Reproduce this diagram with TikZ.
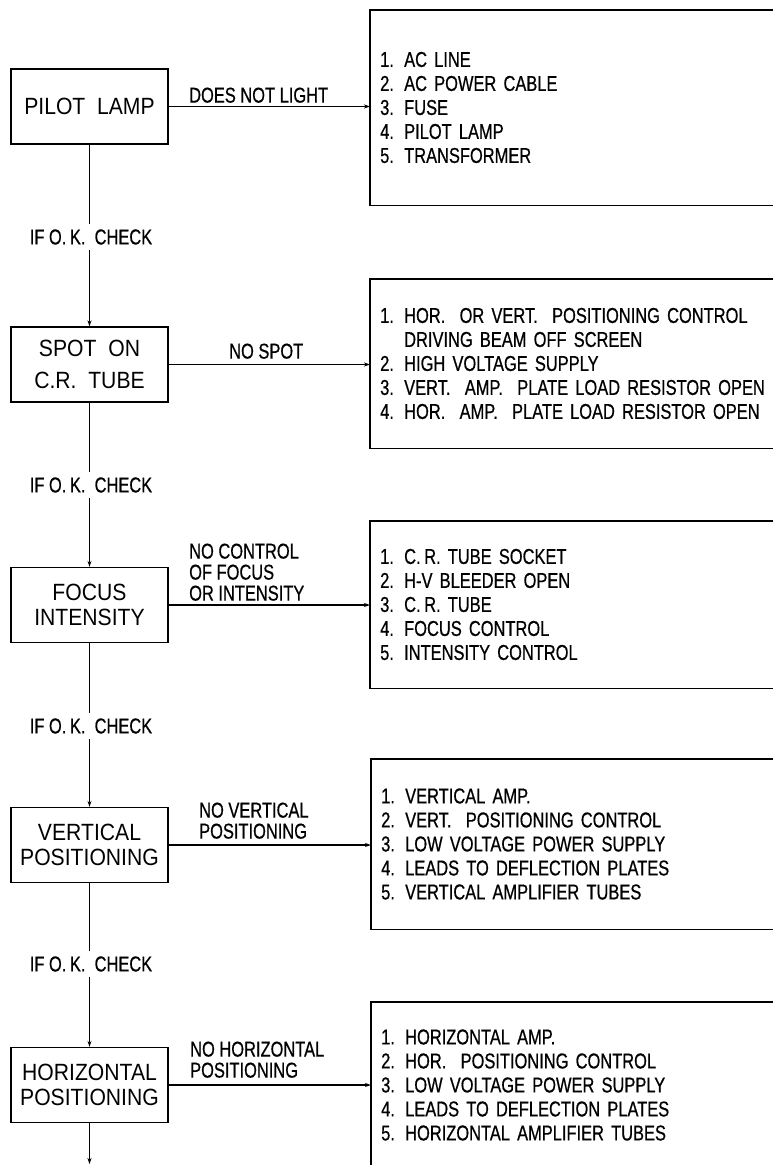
\documentclass[tikz,border=0pt]{standalone}
\usepackage{fontspec}
\setmainfont{Liberation Sans}
\newfontfamily\lettfont[FakeStretch=0.765,FakeBold=0.6]{Liberation Sans}
\newfontfamily\boxfont[FakeStretch=0.9]{Liberation Sans}
\usetikzlibrary{arrows.meta}
\newcommand\itm[1]{\makebox[24pt][l]{#1}}
\begin{document}
\begin{tikzpicture}[x=1pt,y=-1pt,
  check/.style={draw, line width=1.4pt, minimum width=157pt, minimum height=75pt, inner sep=0pt, align=center, font=\boxfont\fontsize{23.5}{25}\selectfont},
  causes/.style={anchor=west, text width=400pt, inner xsep=10pt, inner ysep=0pt, align=left, font=\lettfont\fontsize{21.5}{24}\selectfont},
  frame/.style={line width=1.4pt},
  flow/.style={line width=1.3pt, -{Stealth[length=6pt,width=4pt]}},
  link/.style={line width=1.3pt},
  oktext/.style={font=\lettfont\fontsize{21.5}{24}\selectfont, inner xsep=2pt, inner ysep=5pt},
  cond/.style={anchor=south west, inner sep=0pt, align=left, font=\lettfont\fontsize{21.5}{21}\selectfont},
]
\useasboundingbox (0,0) rectangle (773,1165);
\clip (0,0) rectangle (773,1165);

% left check boxes
\node[check] (b1) at (89.5,106.5) {PILOT\ \ LAMP};
\node[check, font=\boxfont\fontsize{23.5}{32}\selectfont] (b2) at (89.5,364.5) {SPOT\ \ ON\\C.R.\ \ TUBE};
\node[check] (b3) at (89.5,605) {FOCUS\\INTENSITY};
\node[check] (b4) at (89.5,845) {VERTICAL\\POSITIONING};
\node[check] (b5) at (89.5,1085) {HORIZONTAL\\POSITIONING};

% right cause boxes
\node[causes, minimum height=195pt] (r1) at (370,107.5)
  {\itm{1.}AC LINE\\\itm{2.}AC POWER CABLE\\\itm{3.}FUSE\\\itm{4.}PILOT LAMP\\\itm{5.}TRANSFORMER};
\node[causes, minimum height=169pt] (r2) at (370,363.5)
  {\itm{1.}HOR.\ \ OR VERT.\ \ POSITIONING CONTROL\\\hspace*{24pt}DRIVING BEAM OFF SCREEN\\\itm{2.}HIGH VOLTAGE SUPPLY\\\itm{3.}VERT.\ \ AMP.\ \ PLATE LOAD RESISTOR OPEN\\\itm{4.}HOR.\ \ AMP.\ \ PLATE LOAD RESISTOR OPEN};
\node[causes, minimum height=167pt] (r3) at (370,604.5)
  {\itm{1.}C.\,R.\ TUBE SOCKET\\\itm{2.}H-V BLEEDER OPEN\\\itm{3.}C.\,R.\ TUBE\\\itm{4.}FOCUS CONTROL\\\itm{5.}INTENSITY CONTROL};
\node[causes, minimum height=170pt] (r4) at (371,844)
  {\itm{1.}VERTICAL AMP.\\\itm{2.}VERT.\ \ POSITIONING CONTROL\\\itm{3.}LOW VOLTAGE POWER SUPPLY\\\itm{4.}LEADS TO DEFLECTION PLATES\\\itm{5.}VERTICAL AMPLIFIER TUBES};
\node[causes, minimum height=166pt] (r5) at (371,1085)
  {\itm{1.}HORIZONTAL AMP.\\\itm{2.}HOR.\ \ POSITIONING CONTROL\\\itm{3.}LOW VOLTAGE POWER SUPPLY\\\itm{4.}LEADS TO DEFLECTION PLATES\\\itm{5.}HORIZONTAL AMPLIFIER TUBES};

\foreach \r in {r1,r2,r3,r4,r5}
  \draw[frame] (\r.north east) -- (\r.north west) -- (\r.south west) -- (\r.south east);

% condition labels
\node[cond] (l1) at (189,103) {DOES NOT LIGHT};
\node[cond] (l2) at (229,359) {NO SPOT};
\node[cond] (l3) at (189,601) {NO CONTROL\\OF FOCUS\\OR INTENSITY};
\node[cond] (l4) at (199,839) {NO VERTICAL\\POSITIONING};
\node[cond] (l5) at (190,1078) {NO HORIZONTAL\\POSITIONING};

% horizontal arrows
\draw[flow] (b1.east) -- (b1.east -| r1.west);
\draw[flow] (b2.east) -- (b2.east -| r2.west);
\draw[flow] (b3.east) -- (b3.east -| r3.west);
\draw[flow] (b4.east) -- (b4.east -| r4.west);
\draw[flow] (b5.east) -- (b5.east -| r5.west);

% IF O.K. CHECK labels
\node[oktext] (k1) at (91,237) {IF O.\,K.\ \ CHECK};
\node[oktext] (k2) at (91,485) {IF O.\,K.\ \ CHECK};
\node[oktext] (k3) at (91,726) {IF O.\,K.\ \ CHECK};
\node[oktext] (k4) at (91,964) {IF O.\,K.\ \ CHECK};

\draw[link] (b1.south) -- (b1.south |- k1.north);
\draw[flow] (b1.south |- k1.south) -- (b2.north);
\draw[link] (b2.south) -- (b2.south |- k2.north);
\draw[flow] (b2.south |- k2.south) -- (b3.north);
\draw[link] (b3.south) -- (b3.south |- k3.north);
\draw[flow] (b3.south |- k3.south) -- (b4.north);
\draw[link] (b4.south) -- (b4.south |- k4.north);
\draw[flow] (b4.south |- k4.south) -- (b5.north);

\coordinate (tail) at (89.5,1164);
\draw[flow] (b5.south) -- (tail);
\end{tikzpicture}
\end{document}
